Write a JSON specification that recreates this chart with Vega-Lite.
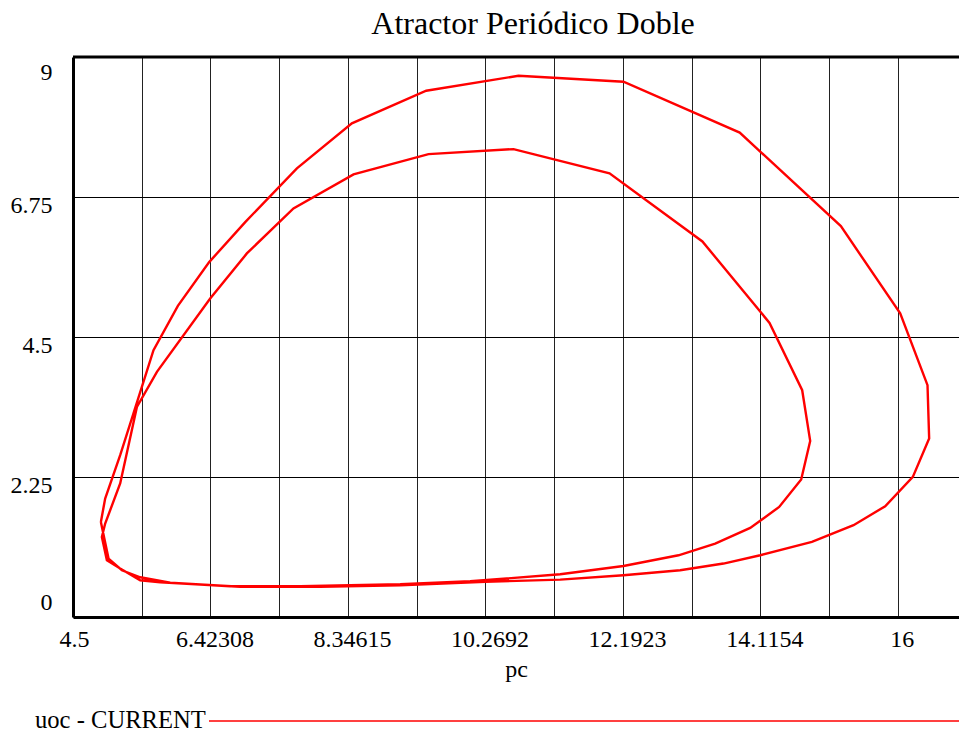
{
  "$schema": "https://vega.github.io/schema/vega-lite/v6.json",
  "autosize": "none",
  "width": 886,
  "height": 560,
  "padding": {"left": 73, "top": 57, "right": 0, "bottom": 115},
  "background": "white",
  "config": {"view": {"stroke": null}, "font": "Liberation Serif"},
  "title": {
    "text": "Atractor Periódico Doble",
    "font": "Liberation Serif",
    "fontSize": 32,
    "fontWeight": "normal",
    "color": "black",
    "anchor": "middle",
    "frame": "group",
    "dx": 17,
    "dy": 33,
    "offset": 23,
    "baseline": "alphabetic"
  },
  "datasets": {
    "orbit": [
      {"step": 1, "pc": 4.890, "uoc": 1.528},
      {"step": 2, "pc": 4.950, "uoc": 1.904},
      {"step": 3, "pc": 5.160, "uoc": 2.600},
      {"step": 4, "pc": 5.346, "uoc": 3.271},
      {"step": 5, "pc": 5.626, "uoc": 4.288},
      {"step": 6, "pc": 5.967, "uoc": 5.001},
      {"step": 7, "pc": 6.405, "uoc": 5.704},
      {"step": 8, "pc": 6.909, "uoc": 6.347},
      {"step": 9, "pc": 7.632, "uoc": 7.210},
      {"step": 10, "pc": 8.401, "uoc": 7.934},
      {"step": 11, "pc": 9.441, "uoc": 8.458},
      {"step": 12, "pc": 10.732, "uoc": 8.699},
      {"step": 13, "pc": 12.200, "uoc": 8.603},
      {"step": 14, "pc": 13.826, "uoc": 7.786},
      {"step": 15, "pc": 15.241, "uoc": 6.282},
      {"step": 16, "pc": 16.071, "uoc": 4.879},
      {"step": 17, "pc": 16.453, "uoc": 3.726},
      {"step": 18, "pc": 16.476, "uoc": 2.869},
      {"step": 19, "pc": 16.248, "uoc": 2.251},
      {"step": 20, "pc": 15.861, "uoc": 1.780},
      {"step": 21, "pc": 15.418, "uoc": 1.475},
      {"step": 22, "pc": 14.836, "uoc": 1.206},
      {"step": 23, "pc": 14.113, "uoc": 0.992},
      {"step": 24, "pc": 13.599, "uoc": 0.859},
      {"step": 25, "pc": 12.993, "uoc": 0.751},
      {"step": 26, "pc": 12.200, "uoc": 0.671},
      {"step": 27, "pc": 11.315, "uoc": 0.601},
      {"step": 28, "pc": 10.266, "uoc": 0.566},
      {"step": 29, "pc": 9.077, "uoc": 0.510},
      {"step": 30, "pc": 7.958, "uoc": 0.486},
      {"step": 31, "pc": 6.839, "uoc": 0.486},
      {"step": 32, "pc": 5.720, "uoc": 0.558},
      {"step": 33, "pc": 5.440, "uoc": 0.590},
      {"step": 34, "pc": 5.160, "uoc": 0.778},
      {"step": 35, "pc": 4.974, "uoc": 0.912},
      {"step": 36, "pc": 4.904, "uoc": 1.286},
      {"step": 37, "pc": 4.950, "uoc": 1.502},
      {"step": 38, "pc": 5.160, "uoc": 2.145},
      {"step": 39, "pc": 5.394, "uoc": 3.377},
      {"step": 40, "pc": 5.674, "uoc": 3.940},
      {"step": 41, "pc": 6.419, "uoc": 5.120},
      {"step": 42, "pc": 6.932, "uoc": 5.843},
      {"step": 43, "pc": 7.584, "uoc": 6.567},
      {"step": 44, "pc": 8.424, "uoc": 7.114},
      {"step": 45, "pc": 9.473, "uoc": 7.440},
      {"step": 46, "pc": 10.662, "uoc": 7.520},
      {"step": 47, "pc": 12.005, "uoc": 7.130},
      {"step": 48, "pc": 13.304, "uoc": 6.036},
      {"step": 49, "pc": 14.243, "uoc": 4.727},
      {"step": 50, "pc": 14.700, "uoc": 3.645},
      {"step": 51, "pc": 14.812, "uoc": 2.830},
      {"step": 52, "pc": 14.686, "uoc": 2.209},
      {"step": 53, "pc": 14.378, "uoc": 1.769},
      {"step": 54, "pc": 13.973, "uoc": 1.431},
      {"step": 55, "pc": 13.483, "uoc": 1.180},
      {"step": 56, "pc": 12.970, "uoc": 0.992},
      {"step": 57, "pc": 12.200, "uoc": 0.820},
      {"step": 58, "pc": 11.315, "uoc": 0.687},
      {"step": 59, "pc": 10.056, "uoc": 0.574},
      {"step": 60, "pc": 9.077, "uoc": 0.526},
      {"step": 61, "pc": 7.678, "uoc": 0.494},
      {"step": 62, "pc": 6.699, "uoc": 0.494},
      {"step": 63, "pc": 5.860, "uoc": 0.550},
      {"step": 64, "pc": 5.440, "uoc": 0.638},
      {"step": 65, "pc": 5.184, "uoc": 0.751},
      {"step": 66, "pc": 4.997, "uoc": 0.939},
      {"step": 67, "pc": 4.890, "uoc": 1.528}
    ]
  },
  "layer": [
    {
      "data": {"name": "orbit"},
      "mark": {"type": "line", "strokeWidth": 2.4, "clip": true},
      "encoding": {
        "x": {
          "field": "pc",
          "type": "quantitative",
          "scale": {"domain": [4.5, 16.8935], "nice": false, "zero": false},
          "axis": {
            "values": [4.5, 5.461538, 6.423077, 7.384615, 8.346154, 9.307692, 10.269231, 11.230769, 12.192308, 13.153846, 14.115385, 15.076923, 16.038462],
            "labelExpr": "['4.5','','6.42308','','8.34615','','10.2692','','12.1923','','14.1154','','16'][round((datum.value - 4.5) * 13 / 12.5)]",
            "grid": true,
            "gridColor": "#222222",
            "gridWidth": 1,
            "ticks": false,
            "domainColor": "black",
            "domainWidth": 3,
            "labelFont": "Liberation Serif",
            "labelFontSize": 24,
            "labelColor": "black",
            "labelPadding": 10,
            "labelFlush": false,
            "labelOverlap": false,
            "labelOffset": {"condition": {"test": "datum.value == 4.5", "value": 1}, "value": 4},
            "title": "pc",
            "titleFont": "Liberation Serif",
            "titleFontSize": 24,
            "titleFontWeight": "normal",
            "titleColor": "black",
            "titlePadding": 6
          }
        },
        "y": {
          "field": "uoc",
          "type": "quantitative",
          "scale": {"domain": [0, 9], "nice": false},
          "axis": {
            "values": [0, 2.25, 4.5, 6.75, 9],
            "labelExpr": "datum.value + ''",
            "grid": true,
            "gridColor": "black",
            "gridWidth": 1,
            "ticks": false,
            "domainColor": "black",
            "domainWidth": 3,
            "labelFont": "Liberation Serif",
            "labelFontSize": 24,
            "labelColor": "black",
            "labelPadding": 21,
            "labelBaseline": "middle",
            "labelFlush": false,
            "labelOverlap": false,
            "labelOffset": {"condition": [{"test": "datum.value == 9", "value": 15}, {"test": "datum.value == 0", "value": -14.5}], "value": 8.5},
            "title": null
          }
        },
        "order": {"field": "step", "type": "quantitative"},
        "color": {
          "datum": "uoc - CURRENT",
          "scale": {"range": ["#ff0000"]},
          "legend": {
            "orient": "none",
            "legendX": -38,
            "legendY": 652,
            "padding": 0,
            "title": "uoc - CURRENT",
            "titleOrient": "left",
            "titleFont": "Liberation Serif",
            "titleFontSize": 24.6,
            "titleFontWeight": "normal",
            "titleColor": "black",
            "titlePadding": 2,
            "labelExpr": "''",
            "symbolType": "stroke",
            "symbolSize": 577600,
            "symbolStrokeWidth": 1.5,
            "clipHeight": 24
          }
        }
      }
    },
    {
      "data": {"values": [{}]},
      "mark": {"type": "rule", "color": "black", "strokeWidth": 3},
      "encoding": {"y": {"datum": 9}}
    }
  ]
}
